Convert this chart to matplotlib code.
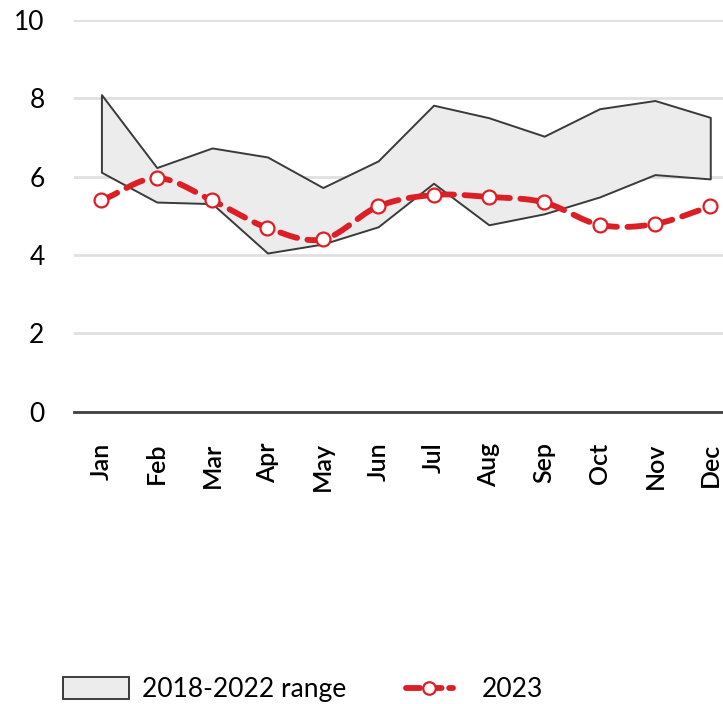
import numpy as np
import matplotlib
matplotlib.use("Agg")
import matplotlib.pyplot as plt
from matplotlib.patches import Patch
from matplotlib.lines import Line2D

months = ["Jan", "Feb", "Mar", "Apr", "May", "Jun", "Jul", "Aug", "Sep", "Oct", "Nov", "Dec"]
range_high = [8.09, 6.23, 6.73, 6.50, 5.72, 6.40, 7.82, 7.50, 7.03, 7.73, 7.94, 7.51]
range_low = [6.11, 5.35, 5.31, 4.05, 4.28, 4.72, 5.83, 4.77, 5.05, 5.48, 6.05, 5.94]
y2023 = [5.39, 5.96, 5.39, 4.69, 4.40, 5.24, 5.53, 5.48, 5.34, 4.77, 4.79, 5.24]
yticks = [0, 2, 4, 6, 8, 10]

plt.rcParams['font.family'] = ['Lato', 'DejaVu Sans']

RED = "#dc1f26"

fig = plt.figure(figsize=(7.23, 7.04), dpi=100)
ax = fig.add_axes([0.102, 0.415, 0.898, 0.557])

x = np.arange(len(months))
ax.fill_between(x, range_low, range_high, facecolor="#ececec", edgecolor="#3a3a3a",
                linewidth=1.4, zorder=2)


def catmull_rom(xs, ys, n=20):
    xs = np.asarray(xs, float)
    ys = np.asarray(ys, float)
    px = np.concatenate([[2 * xs[0] - xs[1]], xs, [2 * xs[-1] - xs[-2]]])
    py = np.concatenate([[2 * ys[0] - ys[1]], ys, [2 * ys[-1] - ys[-2]]])
    outx, outy = [], []
    for i in range(1, len(px) - 2):
        t = np.linspace(0, 1, n, endpoint=False)
        for arr, out in ((px, outx), (py, outy)):
            p0, p1, p2, p3 = arr[i - 1], arr[i], arr[i + 1], arr[i + 2]
            out.extend(0.5 * ((2 * p1) + (-p0 + p2) * t + (2 * p0 - 5 * p1 + 4 * p2 - p3) * t ** 2
                              + (-p0 + 3 * p1 - 3 * p2 + p3) * t ** 3))
    outx.append(xs[-1])
    outy.append(ys[-1])
    return np.array(outx), np.array(outy)


sx, sy = catmull_rom(x, y2023)
ax.plot(sx, sy, color=RED, linewidth=4.2, dashes=(3.0, 1.8), dash_capstyle="round",
        zorder=3, clip_on=False)
ax.plot(x, y2023, linestyle="none", marker="o", markersize=10, markerfacecolor="white",
        markeredgecolor=RED, markeredgewidth=1.6, zorder=4, clip_on=False)

ax.set_xlim(-0.5, 11.23)
ax.set_ylim(0, 10)
ax.set_yticks(yticks)
ax.set_yticklabels([str(v) for v in yticks])
ax.set_xticks(x)
ax.set_xticklabels(months, rotation=90, va="top", ha="center", fontweight="semibold")
ax.yaxis.grid(True, color="#e0e0e0", linewidth=2)
ax.set_axisbelow(True)
ax.tick_params(axis="y", length=0, pad=21, labelsize=19)
ax.tick_params(axis="x", length=0, pad=22, labelsize=18)
for s in ["left", "right", "top"]:
    ax.spines[s].set_visible(False)
ax.spines["bottom"].set_color("#404040")
ax.spines["bottom"].set_linewidth(2)
ax.spines["bottom"].set_zorder(5)

patch_handle = Patch(facecolor="#ececec", edgecolor="#3a3a3a", linewidth=1.4)
line_handle = Line2D([0], [0], color=RED, linewidth=4.2, dashes=(2.4, 1.3), dash_capstyle="round",
                     marker="o", markersize=9, markerfacecolor="white",
                     markeredgecolor=RED, markeredgewidth=1.6)
fig.legend([patch_handle], ["2018-2022 range"], loc="center left",
           bbox_to_anchor=(0.087, 0.02), frameon=False, fontsize=19,
           handlelength=2.5, handleheight=0.9, handletextpad=0.5,
           borderaxespad=0, borderpad=0)
fig.legend([line_handle], ["2023"], loc="center left", bbox_to_anchor=(0.562, 0.02),
           frameon=False, fontsize=19, handlelength=1.75, handletextpad=1.1,
           borderaxespad=0, borderpad=0)

fig.savefig("out.png", dpi=100)
